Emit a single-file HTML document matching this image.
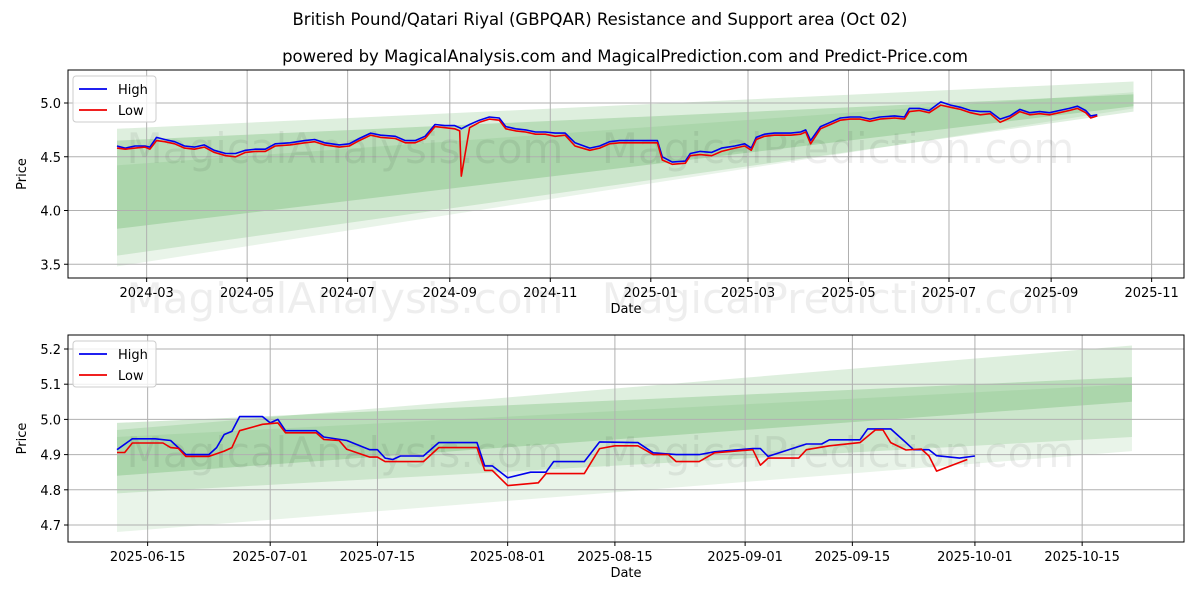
<!DOCTYPE html>
<html><head><meta charset="utf-8"><style>
body{margin:0;background:#fff;font-family:"Liberation Sans","DejaVu Sans",sans-serif}
svg text{font-family:"DejaVu Sans","Liberation Sans",sans-serif}
</style></head><body>
<svg id="c" width="1200" height="600" xmlns="http://www.w3.org/2000/svg"></svg>
<script>
// ---------- Top chart data (days since 2024-02-12) ----------
const topDays=[0,5,11,17,20,24,29,35,41,47,53,59,66,72,78,84,90,96,105,114,120,126,135,141,147,154,160,169,175,181,187,193,199,205,208,209,214,220,226,232,236,242,248,254,260,266,272,278,287,293,299,305,317,328,331,337,345,348,354,361,367,375,381,385,388,393,399,409,415,418,421,427,433,439,445,451,457,463,472,478,481,487,493,500,506,512,518,524,530,536,542,548,554,560,566,572,578,583,588,591,595];
const topHigh=[4.60,4.58,4.60,4.60,4.59,4.68,4.66,4.64,4.60,4.59,4.61,4.56,4.53,4.53,4.56,4.57,4.57,4.62,4.63,4.65,4.66,4.63,4.61,4.62,4.67,4.72,4.70,4.69,4.65,4.65,4.69,4.80,4.79,4.79,4.77,4.76,4.80,4.84,4.87,4.86,4.78,4.76,4.75,4.73,4.73,4.72,4.72,4.63,4.58,4.60,4.64,4.65,4.65,4.65,4.50,4.45,4.46,4.53,4.55,4.54,4.58,4.60,4.62,4.58,4.68,4.71,4.72,4.72,4.73,4.75,4.65,4.78,4.82,4.86,4.87,4.87,4.85,4.87,4.88,4.87,4.95,4.95,4.93,5.01,4.98,4.96,4.93,4.92,4.92,4.85,4.88,4.94,4.91,4.92,4.91,4.93,4.95,4.97,4.93,4.88,4.89];
const topLow=[4.58,4.57,4.58,4.59,4.57,4.65,4.64,4.62,4.58,4.57,4.59,4.54,4.51,4.50,4.54,4.55,4.55,4.60,4.61,4.63,4.64,4.61,4.59,4.60,4.65,4.70,4.68,4.67,4.63,4.63,4.67,4.78,4.77,4.76,4.74,4.32,4.77,4.82,4.85,4.84,4.76,4.74,4.73,4.71,4.71,4.69,4.70,4.60,4.56,4.58,4.62,4.63,4.63,4.63,4.47,4.43,4.44,4.51,4.52,4.51,4.55,4.58,4.60,4.56,4.66,4.69,4.70,4.70,4.71,4.73,4.62,4.76,4.80,4.84,4.85,4.85,4.83,4.85,4.86,4.85,4.92,4.93,4.91,4.98,4.96,4.94,4.91,4.89,4.90,4.82,4.86,4.92,4.89,4.90,4.89,4.91,4.93,4.95,4.91,4.86,4.88];
const topBands=[[3.83,4.65,4.97,5.08],[3.58,4.76,4.92,5.20],[3.48,4.42,4.95,5.10]];
const topBandEndDay=617;
const topTicks=["2024-03","2024-05","2024-07","2024-09","2024-11","2025-01","2025-03","2025-05","2025-07","2025-09","2025-11"];
const topYTicks=[3.5,4.0,4.5,5.0];
// ---------- Bottom chart data (days since 2025-06-11) ----------
const botHighDays=[0,2,5,7,9,12,13,14,15,16,19,20,21,22,26,27,30,33,34,35,36,37,40,42,47,48,49,51,54,56,57,61,63,68,70,73,76,78,83,84,85,90,92,93,97,98,101,103,104,106,107,110,112];
const botHigh=[4.914,4.945,4.945,4.94,4.90,4.90,4.92,4.957,4.966,5.008,5.008,4.99,5.0,4.968,4.968,4.95,4.94,4.914,4.914,4.89,4.886,4.896,4.896,4.934,4.934,4.868,4.868,4.834,4.85,4.85,4.88,4.88,4.936,4.934,4.905,4.90,4.90,4.908,4.917,4.917,4.895,4.93,4.93,4.942,4.942,4.973,4.973,4.934,4.914,4.914,4.897,4.89,4.896];
const botLowDays=[0,1,2,6,7,8,9,12,14,15,16,19,21,22,26,27,29,30,33,34,35,40,42,47,48,49,51,55,56,61,63,65,68,70,72,73,76,78,83,84,85,89,90,93,97,99,100,101,103,105,106,107,111];
const botLow=[4.906,4.906,4.933,4.933,4.92,4.918,4.895,4.895,4.91,4.92,4.968,4.986,4.99,4.962,4.962,4.943,4.94,4.915,4.893,4.893,4.88,4.88,4.92,4.92,4.855,4.855,4.812,4.82,4.846,4.846,4.917,4.925,4.925,4.90,4.90,4.88,4.88,4.905,4.914,4.87,4.89,4.89,4.914,4.925,4.934,4.97,4.97,4.934,4.913,4.916,4.896,4.853,4.886];
const botBands=[[4.84,4.99,5.05,5.12],[4.79,4.97,4.95,5.21],[4.68,4.95,4.91,5.10]];
const botBandEndDay=132.5;
const botTicks=["2025-06-15","2025-07-01","2025-07-15","2025-08-01","2025-08-15","2025-09-01","2025-09-15","2025-10-01","2025-10-15"];
const botYTicks=[4.7,4.8,4.9,5.0,5.1,5.2];

const NS="http://www.w3.org/2000/svg";
const svg=document.getElementById('c');
function mk(tag,attrs,parent){const e=document.createElementNS(NS,tag);for(const k in attrs)e.setAttribute(k,attrs[k]);(parent||svg).appendChild(e);return e;}
function dayDiff(a,b){return (new Date(b)-new Date(a))/86400000;}

function panel(o){
  const g=mk('g',{});
  
  
  const X=d=>o.x0+(d-o.dmin)*o.pxd;
  const Y=v=>o.y0+(o.vtop-v)*o.pxv;
  const alphas=[0.25,0.18,0.12];
  o.bands.forEach((b,i)=>{
    const xa=X(0),xb=X(o.bandEnd);
    const p=mk('polygon',{points:`${xa},${Y(b[0])} ${xb},${Y(b[2])} ${xb},${Y(b[3])} ${xa},${Y(b[1])}`,fill:'#4aa84a','fill-opacity':alphas[i]},g);
    
    
  });
  o.xticks.forEach(t=>{
    const d=dayDiff(o.startDate,t.length==7?t+'-01':t);
    const x=X(d);
    mk('line',{x1:x,x2:x,y1:o.top,y2:o.bottom,stroke:'#b0b0b0','stroke-width':1},g);
    mk('line',{x1:x,x2:x,y1:o.bottom,y2:o.bottom+4,stroke:'#000'},g);
    const tx=mk('text',{x:x,y:o.bottom+19,'font-size':13,'text-anchor':'middle',fill:'#000'},g);
    tx.textContent=t;
    
    
  });
  o.yticks.forEach(v=>{
    const y=Y(v);
    mk('line',{x1:o.left,x2:o.right,y1:y,y2:y,stroke:'#b0b0b0'},g);
    mk('line',{x1:o.left-4,x2:o.left,y1:y,y2:y,stroke:'#000'},g);
    const tx=mk('text',{x:o.left-7,y:y+5,'font-size':13,'text-anchor':'end'},g);
    tx.textContent=v.toFixed(1);
    
    
  });
  o.wm.forEach(w=>{
    const t=mk('text',{x:w[0],y:w[1],'font-size':42,fill:'#000','fill-opacity':0.065,'text-anchor':'middle'},g);
    t.textContent=w[2];
    
    
  });
  const line=(days,vals,col,name)=>{
    const pts=days.map((d,i)=>X(d).toFixed(1)+','+Y(vals[i]).toFixed(1)).join(' ');
    const p=mk('polyline',{points:pts,fill:'none',stroke:col,'stroke-width':1.6,'stroke-linejoin':'round'},g);
    
    
  };
  line(o.hd,o.hv,'#0000ee','high-line');
  line(o.ld,o.lv,'#ee0000','low-line');
  const fr=mk('rect',{x:o.left,y:o.top,width:o.right-o.left,height:o.bottom-o.top,fill:'none',stroke:'#000','stroke-width':1},g);
  
  
  const xl=mk('text',{x:(o.left+o.right)/2,y:o.bottom+35,'font-size':13,'text-anchor':'middle'},g);
  xl.textContent='Date';
  
  
  const yl=mk('text',{x:0,y:0,'font-size':13,'text-anchor':'middle',transform:`translate(${o.left-42},${(o.top+o.bottom)/2}) rotate(-90)`},g);
  yl.textContent='Price';
  
  
  const lg=mk('g',{},g);
  
  
  mk('rect',{x:o.left+5,y:o.top+6,width:83,height:46,rx:3,fill:'#fff','fill-opacity':0.8,stroke:'#ccc'},lg);
  [['High','#0000ee'],['Low','#ee0000']].forEach((e,i)=>{
    const yy=o.top+19+i*21;
    mk('line',{x1:o.left+11,x2:o.left+39,y1:yy,y2:yy,stroke:e[1],'stroke-width':1.8},lg);
    const t=mk('text',{x:o.left+50,y:yy+5,'font-size':13},lg);
    t.textContent=e[0];
    
    
  });
}

panel({name:'top-chart',left:68,right:1184,top:70,bottom:278,x0:117,dmin:0,pxd:1.6475,startDate:'2024-02-12',
  vtop:5.0,y0:103,pxv:107.5,bands:topBands,bandEnd:topBandEndDay,xticks:topTicks,yticks:topYTicks,
  hd:topDays,hv:topHigh,ld:topDays,lv:topLow,
  wm:[[345,163,'MagicalAnalysis.com'],[838,163,'MagicalPrediction.com'],[345,313,'MagicalAnalysis.com'],[838,313,'MagicalPrediction.com']]});
panel({name:'bottom-chart',left:68,right:1184,top:335,bottom:542,x0:117,dmin:0,pxd:7.66,startDate:'2025-06-11',
  vtop:5.2,y0:349,pxv:352,bands:botBands,bandEnd:botBandEndDay,xticks:botTicks,yticks:botYTicks,
  hd:botHighDays,hv:botHigh,ld:botLowDays,lv:botLow,
  wm:[[345,467,'MagicalAnalysis.com'],[838,467,'MagicalPrediction.com']]});

const t1=mk('text',{x:600,y:25,'font-size':16.5,'text-anchor':'middle'});
t1.textContent='British Pound/Qatari Riyal (GBPQAR) Resistance and Support area (Oct 02)';


const t2=mk('text',{x:625,y:62,'font-size':16.5,'text-anchor':'middle'});
t2.textContent='powered by MagicalAnalysis.com and MagicalPrediction.com and Predict-Price.com';


</script>
</body></html>
